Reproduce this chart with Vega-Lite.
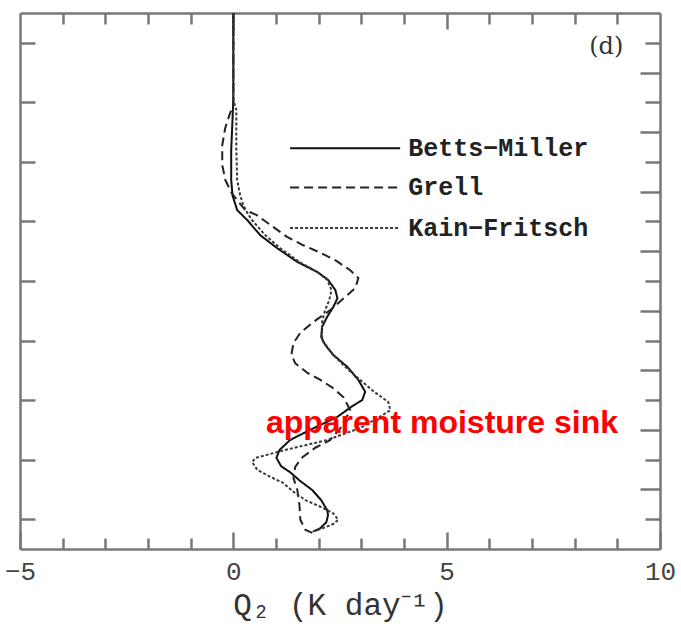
{
  "$schema": "https://vega.github.io/schema/vega-lite/v6.json",
  "width": 640,
  "height": 536,
  "autosize": {"type": "none"},
  "padding": {"left": 20, "top": 13, "right": 21, "bottom": 77},
  "background": "white",
  "config": {"view": {"stroke": null}},
  "datasets": {
    "profiles": [
      {"scheme": "Betts−Miller", "i": 1, "p": 100, "q": 0},
      {"scheme": "Betts−Miller", "i": 2, "p": 246, "q": 0},
      {"scheme": "Betts−Miller", "i": 3, "p": 280, "q": -0.02},
      {"scheme": "Betts−Miller", "i": 4, "p": 330, "q": -0.05},
      {"scheme": "Betts−Miller", "i": 5, "p": 380, "q": -0.05},
      {"scheme": "Betts−Miller", "i": 6, "p": 406, "q": -0.02},
      {"scheme": "Betts−Miller", "i": 7, "p": 431, "q": 0.09},
      {"scheme": "Betts−Miller", "i": 8, "p": 448, "q": 0.33},
      {"scheme": "Betts−Miller", "i": 9, "p": 473, "q": 0.63},
      {"scheme": "Betts−Miller", "i": 10, "p": 495, "q": 1.03},
      {"scheme": "Betts−Miller", "i": 11, "p": 518, "q": 1.5},
      {"scheme": "Betts−Miller", "i": 12, "p": 535, "q": 1.97},
      {"scheme": "Betts−Miller", "i": 13, "p": 548, "q": 2.22},
      {"scheme": "Betts−Miller", "i": 14, "p": 565, "q": 2.39},
      {"scheme": "Betts−Miller", "i": 15, "p": 579, "q": 2.44},
      {"scheme": "Betts−Miller", "i": 16, "p": 594, "q": 2.34},
      {"scheme": "Betts−Miller", "i": 17, "p": 610, "q": 2.2},
      {"scheme": "Betts−Miller", "i": 18, "p": 627, "q": 2.08},
      {"scheme": "Betts−Miller", "i": 19, "p": 644, "q": 2.06},
      {"scheme": "Betts−Miller", "i": 20, "p": 657, "q": 2.15},
      {"scheme": "Betts−Miller", "i": 21, "p": 674, "q": 2.34},
      {"scheme": "Betts−Miller", "i": 22, "p": 694, "q": 2.67},
      {"scheme": "Betts−Miller", "i": 23, "p": 716, "q": 2.93},
      {"scheme": "Betts−Miller", "i": 24, "p": 736, "q": 3.09},
      {"scheme": "Betts−Miller", "i": 25, "p": 750, "q": 3.02},
      {"scheme": "Betts−Miller", "i": 26, "p": 760, "q": 2.79},
      {"scheme": "Betts−Miller", "i": 27, "p": 778, "q": 2.44},
      {"scheme": "Betts−Miller", "i": 28, "p": 800, "q": 1.8},
      {"scheme": "Betts−Miller", "i": 29, "p": 817, "q": 1.33},
      {"scheme": "Betts−Miller", "i": 30, "p": 834, "q": 1.08},
      {"scheme": "Betts−Miller", "i": 31, "p": 847, "q": 1.01},
      {"scheme": "Betts−Miller", "i": 32, "p": 861, "q": 1.12},
      {"scheme": "Betts−Miller", "i": 33, "p": 871, "q": 1.33},
      {"scheme": "Betts−Miller", "i": 34, "p": 886, "q": 1.57},
      {"scheme": "Betts−Miller", "i": 35, "p": 901, "q": 1.85},
      {"scheme": "Betts−Miller", "i": 36, "p": 918, "q": 2.06},
      {"scheme": "Betts−Miller", "i": 37, "p": 935, "q": 2.2},
      {"scheme": "Betts−Miller", "i": 38, "p": 943, "q": 2.22},
      {"scheme": "Betts−Miller", "i": 39, "p": 955, "q": 2.18},
      {"scheme": "Betts−Miller", "i": 40, "p": 965, "q": 2.04},
      {"scheme": "Betts−Miller", "i": 41, "p": 970, "q": 1.9},
      {"scheme": "Grell", "i": 1, "p": 100, "q": 0},
      {"scheme": "Grell", "i": 2, "p": 254, "q": 0},
      {"scheme": "Grell", "i": 3, "p": 271, "q": -0.09},
      {"scheme": "Grell", "i": 4, "p": 293, "q": -0.19},
      {"scheme": "Grell", "i": 5, "p": 322, "q": -0.26},
      {"scheme": "Grell", "i": 6, "p": 355, "q": -0.26},
      {"scheme": "Grell", "i": 7, "p": 380, "q": -0.19},
      {"scheme": "Grell", "i": 8, "p": 401, "q": -0.05},
      {"scheme": "Grell", "i": 9, "p": 417, "q": 0.12},
      {"scheme": "Grell", "i": 10, "p": 431, "q": 0.28},
      {"scheme": "Grell", "i": 11, "p": 439, "q": 0.54},
      {"scheme": "Grell", "i": 12, "p": 456, "q": 0.87},
      {"scheme": "Grell", "i": 13, "p": 476, "q": 1.26},
      {"scheme": "Grell", "i": 14, "p": 490, "q": 1.64},
      {"scheme": "Grell", "i": 15, "p": 501, "q": 1.99},
      {"scheme": "Grell", "i": 16, "p": 515, "q": 2.39},
      {"scheme": "Grell", "i": 17, "p": 532, "q": 2.74},
      {"scheme": "Grell", "i": 18, "p": 545, "q": 2.93},
      {"scheme": "Grell", "i": 19, "p": 562, "q": 2.86},
      {"scheme": "Grell", "i": 20, "p": 577, "q": 2.62},
      {"scheme": "Grell", "i": 21, "p": 599, "q": 2.27},
      {"scheme": "Grell", "i": 22, "p": 619, "q": 1.87},
      {"scheme": "Grell", "i": 23, "p": 637, "q": 1.57},
      {"scheme": "Grell", "i": 24, "p": 654, "q": 1.41},
      {"scheme": "Grell", "i": 25, "p": 674, "q": 1.36},
      {"scheme": "Grell", "i": 26, "p": 688, "q": 1.45},
      {"scheme": "Grell", "i": 27, "p": 704, "q": 1.73},
      {"scheme": "Grell", "i": 28, "p": 716, "q": 2.04},
      {"scheme": "Grell", "i": 29, "p": 730, "q": 2.34},
      {"scheme": "Grell", "i": 30, "p": 745, "q": 2.58},
      {"scheme": "Grell", "i": 31, "p": 767, "q": 2.74},
      {"scheme": "Grell", "i": 32, "p": 783, "q": 2.62},
      {"scheme": "Grell", "i": 33, "p": 797, "q": 2.51},
      {"scheme": "Grell", "i": 34, "p": 817, "q": 2.27},
      {"scheme": "Grell", "i": 35, "p": 830, "q": 1.92},
      {"scheme": "Grell", "i": 36, "p": 846, "q": 1.62},
      {"scheme": "Grell", "i": 37, "p": 862, "q": 1.45},
      {"scheme": "Grell", "i": 38, "p": 881, "q": 1.41},
      {"scheme": "Grell", "i": 39, "p": 901, "q": 1.5},
      {"scheme": "Grell", "i": 40, "p": 926, "q": 1.55},
      {"scheme": "Grell", "i": 41, "p": 951, "q": 1.57},
      {"scheme": "Grell", "i": 42, "p": 968, "q": 1.69},
      {"scheme": "Grell", "i": 43, "p": 973, "q": 1.85},
      {"scheme": "Kain−Fritsch", "i": 1, "p": 100, "q": 0},
      {"scheme": "Kain−Fritsch", "i": 2, "p": 246, "q": 0},
      {"scheme": "Kain−Fritsch", "i": 3, "p": 263, "q": 0.07},
      {"scheme": "Kain−Fritsch", "i": 4, "p": 330, "q": 0.07},
      {"scheme": "Kain−Fritsch", "i": 5, "p": 380, "q": 0.09},
      {"scheme": "Kain−Fritsch", "i": 6, "p": 406, "q": 0.16},
      {"scheme": "Kain−Fritsch", "i": 7, "p": 422, "q": 0.23},
      {"scheme": "Kain−Fritsch", "i": 8, "p": 436, "q": 0.33},
      {"scheme": "Kain−Fritsch", "i": 9, "p": 448, "q": 0.44},
      {"scheme": "Kain−Fritsch", "i": 10, "p": 473, "q": 0.75},
      {"scheme": "Kain−Fritsch", "i": 11, "p": 495, "q": 1.1},
      {"scheme": "Kain−Fritsch", "i": 12, "p": 518, "q": 1.55},
      {"scheme": "Kain−Fritsch", "i": 13, "p": 535, "q": 1.97},
      {"scheme": "Kain−Fritsch", "i": 14, "p": 548, "q": 2.2},
      {"scheme": "Kain−Fritsch", "i": 15, "p": 565, "q": 2.3},
      {"scheme": "Kain−Fritsch", "i": 16, "p": 582, "q": 2.25},
      {"scheme": "Kain−Fritsch", "i": 17, "p": 599, "q": 2.15},
      {"scheme": "Kain−Fritsch", "i": 18, "p": 619, "q": 2.08},
      {"scheme": "Kain−Fritsch", "i": 19, "p": 649, "q": 2.08},
      {"scheme": "Kain−Fritsch", "i": 20, "p": 674, "q": 2.34},
      {"scheme": "Kain−Fritsch", "i": 21, "p": 694, "q": 2.62},
      {"scheme": "Kain−Fritsch", "i": 22, "p": 716, "q": 2.97},
      {"scheme": "Kain−Fritsch", "i": 23, "p": 736, "q": 3.3},
      {"scheme": "Kain−Fritsch", "i": 24, "p": 753, "q": 3.63},
      {"scheme": "Kain−Fritsch", "i": 25, "p": 767, "q": 3.68},
      {"scheme": "Kain−Fritsch", "i": 26, "p": 775, "q": 3.5},
      {"scheme": "Kain−Fritsch", "i": 27, "p": 797, "q": 2.97},
      {"scheme": "Kain−Fritsch", "i": 28, "p": 817, "q": 2.2},
      {"scheme": "Kain−Fritsch", "i": 29, "p": 834, "q": 1.2},
      {"scheme": "Kain−Fritsch", "i": 30, "p": 847, "q": 0.52},
      {"scheme": "Kain−Fritsch", "i": 31, "p": 854, "q": 0.44},
      {"scheme": "Kain−Fritsch", "i": 32, "p": 867, "q": 0.56},
      {"scheme": "Kain−Fritsch", "i": 33, "p": 879, "q": 0.87},
      {"scheme": "Kain−Fritsch", "i": 34, "p": 889, "q": 1.17},
      {"scheme": "Kain−Fritsch", "i": 35, "p": 904, "q": 1.41},
      {"scheme": "Kain−Fritsch", "i": 36, "p": 918, "q": 1.69},
      {"scheme": "Kain−Fritsch", "i": 37, "p": 929, "q": 2.04},
      {"scheme": "Kain−Fritsch", "i": 38, "p": 940, "q": 2.34},
      {"scheme": "Kain−Fritsch", "i": 39, "p": 951, "q": 2.46},
      {"scheme": "Kain−Fritsch", "i": 40, "p": 958, "q": 2.34},
      {"scheme": "Kain−Fritsch", "i": 41, "p": 965, "q": 2.1},
      {"scheme": "Kain−Fritsch", "i": 42, "p": 971, "q": 1.85}
    ],
    "key": [
      {"scheme": "Betts−Miller", "q1": 1.33, "q2": 3.91, "qt": 4.1, "p": 327},
      {"scheme": "Grell", "q1": 1.33, "q2": 3.91, "qt": 4.1, "p": 393},
      {"scheme": "Kain−Fritsch", "q1": 1.33, "q2": 3.91, "qt": 4.1, "p": 461}
    ]
  },
  "layer": [
    {
      "layer": [
        {
          "data": {"name": "profiles"},
          "mark": {"type": "line", "strokeWidth": 2, "strokeJoin": "round"},
          "encoding": {
            "x": {
              "field": "q", "type": "quantitative",
              "scale": {"domain": [-5, 10], "nice": false, "zero": false},
              "axis": {
                "orient": "bottom",
                "values": [-5, -4, -3, -2, -1, 0, 1, 2, 3, 4, 5, 6, 7, 8, 9, 10],
                "labelExpr": "datum.value % 5 === 0 ? datum.label : ''",
                "title": "Q₂ (K day⁻¹)",
                "grid": false,
                "domainColor": "#777777", "domainWidth": 2.5,
                "tickColor": "#777777", "tickWidth": 2.5,
                "tickSize": {"condition": {"test": "datum.value % 5 === 0", "value": -17}, "value": -11},
                "labelFont": "Liberation Mono", "labelFontSize": 26, "labelColor": "#444444",
                "labelFlush": false, "labelOverlap": false, "labelPadding": 26,
                "titleFont": "Liberation Mono", "titleFontSize": 31, "titleFontWeight": "normal",
                "titleColor": "#333333", "titlePadding": 0
              }
            },
            "y": {
              "field": "p", "type": "quantitative",
              "scale": {"domain": [100, 1000], "reverse": true, "nice": false, "zero": false},
              "axis": {
                "orient": "left",
                "values": [150, 200, 250, 300, 350, 400, 450, 500, 550, 600, 650, 700, 750, 800, 850, 900, 950],
                "labels": false, "title": null, "grid": false,
                "domainColor": "#777777", "domainWidth": 2.5,
                "tickColor": "#777777", "tickWidth": 2.5,
                "tickSize": {"condition": {"test": "datum.value % 100 === 0", "value": -20}, "value": -15}
              }
            },
            "order": {"field": "i", "type": "quantitative"},
            "color": {
              "field": "scheme", "type": "nominal",
              "scale": {"domain": ["Betts−Miller", "Grell", "Kain−Fritsch"], "range": ["#111111", "#222222", "#3a3a3a"]},
              "legend": null
            },
            "strokeDash": {
              "field": "scheme", "type": "nominal",
              "scale": {"domain": ["Betts−Miller", "Grell", "Kain−Fritsch"], "range": [[1, 0], [9, 5], [3, 2]]},
              "legend": null
            }
          }
        },
        {
          "data": {"name": "key"},
          "mark": {"type": "rule", "strokeWidth": 2},
          "encoding": {
            "x": {"field": "q1", "type": "quantitative"},
            "x2": {"field": "q2"},
            "y": {"field": "p", "type": "quantitative"},
            "color": {"field": "scheme", "type": "nominal", "legend": null},
            "strokeDash": {"field": "scheme", "type": "nominal", "legend": null}
          }
        },
        {
          "data": {"name": "key"},
          "mark": {"type": "text", "font": "Liberation Mono", "fontWeight": "bold", "fontSize": 25, "color": "#222222", "align": "left", "baseline": "middle"},
          "encoding": {
            "x": {"field": "qt", "type": "quantitative"},
            "y": {"field": "p", "type": "quantitative"},
            "text": {"field": "scheme"}
          }
        },
        {
          "data": {"values": [{"q": 8.74, "p": 157, "t": "(d)"}]},
          "mark": {"type": "text", "font": "DejaVu Serif", "fontSize": 24, "color": "#333333", "align": "center", "baseline": "middle"},
          "encoding": {
            "x": {"field": "q", "type": "quantitative"},
            "y": {"field": "p", "type": "quantitative"},
            "text": {"field": "t"}
          }
        },
        {
          "data": {"values": [{"q": 4.89, "p": 805, "t": "apparent moisture sink"}]},
          "mark": {"type": "text", "font": "Liberation Sans", "fontWeight": "bold", "fontSize": 32, "color": "#ff0000", "align": "center", "baseline": "alphabetic"},
          "encoding": {
            "x": {"field": "q", "type": "quantitative"},
            "y": {"field": "p", "type": "quantitative"},
            "text": {"field": "t"}
          }
        }
      ]
    },
    {
      "data": {"values": [{"q": 0, "p": 500}]},
      "mark": {"type": "point", "opacity": 0},
      "encoding": {
        "x": {
          "field": "q", "type": "quantitative",
          "scale": {"domain": [-5, 10], "nice": false, "zero": false},
          "axis": {
            "orient": "top",
            "values": [-4, -3, -2, -1, 0, 1, 2, 3, 4, 5, 6, 7, 8, 9],
            "labels": false, "title": null, "grid": false,
            "domainColor": "#777777", "domainWidth": 2.5,
            "tickColor": "#777777", "tickWidth": 2.5,
            "tickSize": {"condition": {"test": "datum.value % 5 === 0", "value": -16}, "value": -11}
          }
        },
        "y": {
          "field": "p", "type": "quantitative",
          "scale": {"domain": [100, 1000], "reverse": true, "nice": false, "zero": false},
          "axis": {
            "orient": "right",
            "values": [150, 200, 250, 300, 350, 400, 450, 500, 550, 600, 650, 700, 750, 800, 850, 900, 950],
            "labels": false, "title": null, "grid": false,
            "domainColor": "#777777", "domainWidth": 2.5,
            "tickColor": "#777777", "tickWidth": 2.5,
            "tickSize": {"condition": {"test": "datum.value % 100 === 0", "value": -20}, "value": -15}
          }
        }
      }
    }
  ],
  "resolve": {"scale": {"x": "independent", "y": "independent"}}
}
